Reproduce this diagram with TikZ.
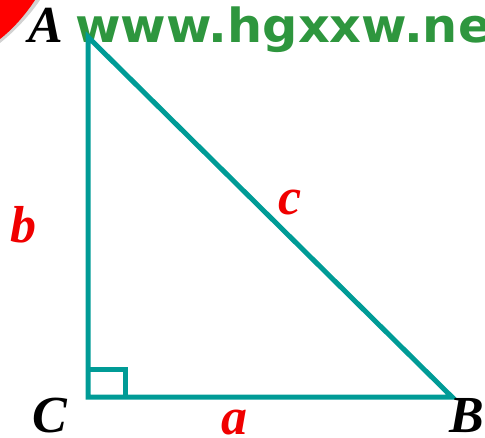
\documentclass[tikz,border=0pt]{standalone}
\usepackage{fontspec}
\setmainfont{Liberation Serif}
\newfontfamily\wmfont{DejaVu Sans}
\usetikzlibrary{calc}
\definecolor{teal1}{RGB}{0,155,150}
\definecolor{wmgreen}{RGB}{46,150,62}
\definecolor{lblred}{RGB}{240,0,0}
\begin{document}
\begin{tikzpicture}[x=1pt,y=1pt,
  side/.style={draw=teal1,line width=5pt},
  vlabel/.style={anchor=base,inner sep=0pt,font=\fontsize{52}{52}\selectfont\bfseries\itshape,text=black},
  slabel/.style={vlabel,text=lblred}]
\useasboundingbox (0,0) rectangle (485,437);
\clip (0,0) rectangle (485,437);
% red logo swoosh
\fill[gray!35] (0,437) -- (40,437) .. controls (30,422) and (15,406) .. (0,394) -- cycle;
\fill[red] (0,437) -- (35,437) .. controls (26,423) and (13,408) .. (0,398) -- cycle;
% watermark
\node[anchor=base west,inner sep=0pt,text=wmgreen,font=\wmfont\bfseries\fontsize{47}{47}\selectfont] (wm) at (75,394) {\scalebox{1.05}[1]{www.hgxxw.ne}};
% triangle
\coordinate (A) at (88,400);
\coordinate (C) at (88,40);
\coordinate (B) at (452,40);
\draw[side] (A) -- (C) -- (B) -- cycle;
\coordinate (R1) at ($(C)+(0,28)$);
\coordinate (R2) at ($(C)+(37,28)$);
\coordinate (R3) at ($(C)+(37,0)$);
\draw[side] (R1) -- (R2) -- (R3);
% labels
\node[vlabel] (lA) at (46,394) {A};
\node[vlabel] (lC) at (50,5) {C};
\node[vlabel] (lB) at (467,5) {B};
\node[slabel] (la) at (234,3) {a};
\node[slabel] (lb) at (23,194) {b};
\node[slabel] (lc) at (290,222) {c};
\end{tikzpicture}
\end{document}
